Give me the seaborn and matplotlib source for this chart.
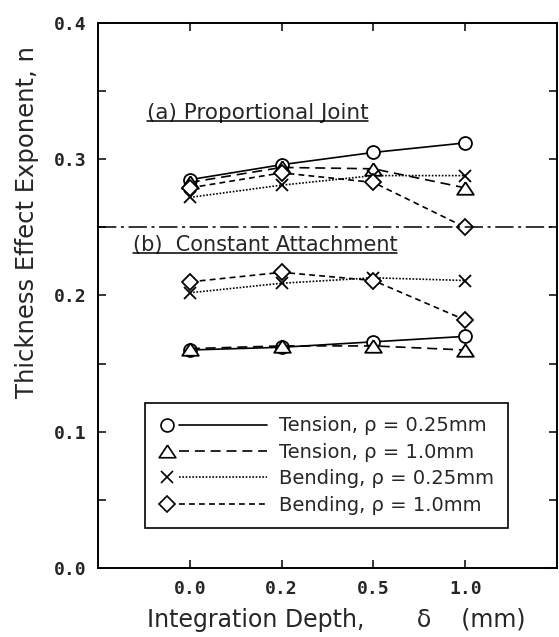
import numpy as np
import pandas as pd
import matplotlib
matplotlib.use("Agg")
import matplotlib.pyplot as plt
import seaborn as sns
from matplotlib.lines import Line2D
from matplotlib.legend_handler import HandlerLine2DCompound
from matplotlib.ticker import MultipleLocator

# ---------------- data ----------------
depth_labels = ["0.0", "0.2", "0.5", "1.0"]
y_tick_values = [0.0, 0.1, 0.2, 0.3, 0.4]
y_tick_labels = ["0.0", "0.1", "0.2", "0.3", "0.4"]

series_names = ["Tension, ρ = 0.25mm", "Tension, ρ = 1.0mm",
                "Bending, ρ = 0.25mm", "Bending, ρ = 1.0mm"]

# (a) Proportional Joint
a_tension_025 = [0.285, 0.296, 0.305, 0.312]
a_tension_10 = [0.283, 0.294, 0.293, 0.279]
a_bending_025 = [0.272, 0.281, 0.288, 0.288]
a_bending_10 = [0.279, 0.290, 0.283, 0.250]

# (b) Constant Attachment
b_tension_025 = [0.160, 0.162, 0.166, 0.170]
b_tension_10 = [0.161, 0.163, 0.163, 0.160]
b_bending_025 = [0.202, 0.209, 0.213, 0.211]
b_bending_10 = [0.210, 0.217, 0.211, 0.182]

reference_n = 0.25

panel_a_text = "(a) Proportional Joint"
panel_b_text = "(b)  Constant Attachment"
x_label = "Integration Depth,       δ    (mm)"
y_label = "Thickness Effect Exponent, n"

# ---------------- styles ----------------
tri = [(0, 0.75), (-1, -0.75), (1, -0.75), (0, 0.75)]
styles = {
    series_names[0]: dict(marker="o", linestyle="-", markersize=9.3),
    series_names[1]: dict(marker=tri, linestyle=(0, (6, 3.5)), markersize=12),
    series_names[2]: dict(marker="x", linestyle=(0, (1, 1)), markersize=9),
    series_names[3]: dict(marker="D", linestyle=(0, (3.5, 2.5)), markersize=8.3),
}

sns.set_style("ticks")
plt.rcParams["font.family"] = ["DejaVu Sans"]
plt.rcParams["axes.linewidth"] = 1.4

fig = plt.figure(figsize=(5.59, 6.37), dpi=100)
ax = fig.add_axes([98 / 559, 1 - 568 / 637, (557 - 98) / 559, (568 - 23) / 637])

positions = np.arange(len(depth_labels))
rows = []
for panel, vals_list in (("a", [a_tension_025, a_tension_10, a_bending_025, a_bending_10]),
                         ("b", [b_tension_025, b_tension_10, b_bending_025, b_bending_10])):
    for name, vals in zip(series_names, vals_list):
        for p, v in zip(positions, vals):
            rows.append(dict(panel=panel, series=name, pos=p, n=v))
df = pd.DataFrame(rows)

for (panel, name), sub in df.groupby(["panel", "series"], sort=False):
    st = styles[name]
    sns.lineplot(data=sub, x="pos", y="n", ax=ax, sort=False, legend=False,
                 color="black", linewidth=1.2, linestyle=st["linestyle"],
                 marker=st["marker"], markersize=st["markersize"],
                 markerfacecolor="white", markeredgecolor="black",
                 markeredgewidth=1.3)

ax.axhline(reference_n, color="black", linewidth=1.1,
           linestyle=(0, (12, 3, 2, 3)))

ax.set_xlim(-1, 4)
ax.set_ylim(0, 0.4)
ax.set_xticks(positions, labels=depth_labels, fontfamily="DejaVu Sans Mono",
              fontsize=13, fontweight="bold")
ax.set_yticks(y_tick_values, labels=y_tick_labels,
              fontfamily="DejaVu Sans Mono", fontsize=13, fontweight="bold")
ax.yaxis.set_minor_locator(MultipleLocator(0.05))
ax.tick_params(which="both", direction="in", top=True, right=True,
               width=1.1, color="black", length=6)
ax.tick_params(axis="x", pad=9)
ax.tick_params(axis="y", pad=8)
for s in ax.spines.values():
    s.set_visible(True)
    s.set_color("black")

ax.set_xlabel(x_label, fontsize=17)
ax.xaxis.label.set_va("center")
ax.xaxis.set_label_coords(0.519, -0.095)
ax.set_ylabel(y_label, fontsize=17.5)
ax.yaxis.label.set_va("center")
ax.yaxis.set_label_coords(-0.155, 0.634)

t_a = ax.text(-0.47, 0.334, panel_a_text, ha="left", va="center", fontsize=15.5)
t_b = ax.text(-0.623, 0.237, panel_b_text, ha="left", va="center", fontsize=15)


class LeftMarkerHandler(HandlerLine2DCompound):
    def get_xdata(self, legend, xdescent, ydescent, width, height, fontsize):
        xdata = np.array([-xdescent + 1.07 * fontsize, -xdescent + width])
        xdata_marker = np.array([-xdescent + 0.45 * fontsize])
        return xdata, xdata_marker


handles = []
for name in series_names:
    st = styles[name]
    handles.append(Line2D([], [], color="black", linewidth=1.2,
                          linestyle=st["linestyle"], marker=st["marker"],
                          markersize=st["markersize"],
                          markerfacecolor="white", markeredgecolor="black",
                          markeredgewidth=1.2))
leg = ax.legend(handles, series_names, loc="lower left",
                bbox_to_anchor=(0.102, 0.073), borderaxespad=0,
                fontsize=14, handlelength=5.6, handletextpad=0.6,
                borderpad=0.7, labelspacing=0.38, frameon=True,
                fancybox=False, framealpha=1, edgecolor="black",
                handler_map={Line2D: LeftMarkerHandler()})
leg.get_frame().set_linewidth(1.2)

fig.canvas.draw()
renderer = fig.canvas.get_renderer()
W, H = fig.get_size_inches() * fig.dpi
for t in (t_a, t_b):
    bb = t.get_window_extent(renderer)
    yline = (bb.y0 + 2) / H
    fig.add_artist(Line2D([bb.x0 / W, bb.x1 / W], [yline, yline],
                          color="black", linewidth=1.1,
                          transform=fig.transFigure))

fig.savefig("out.png", dpi=100, facecolor="white")
